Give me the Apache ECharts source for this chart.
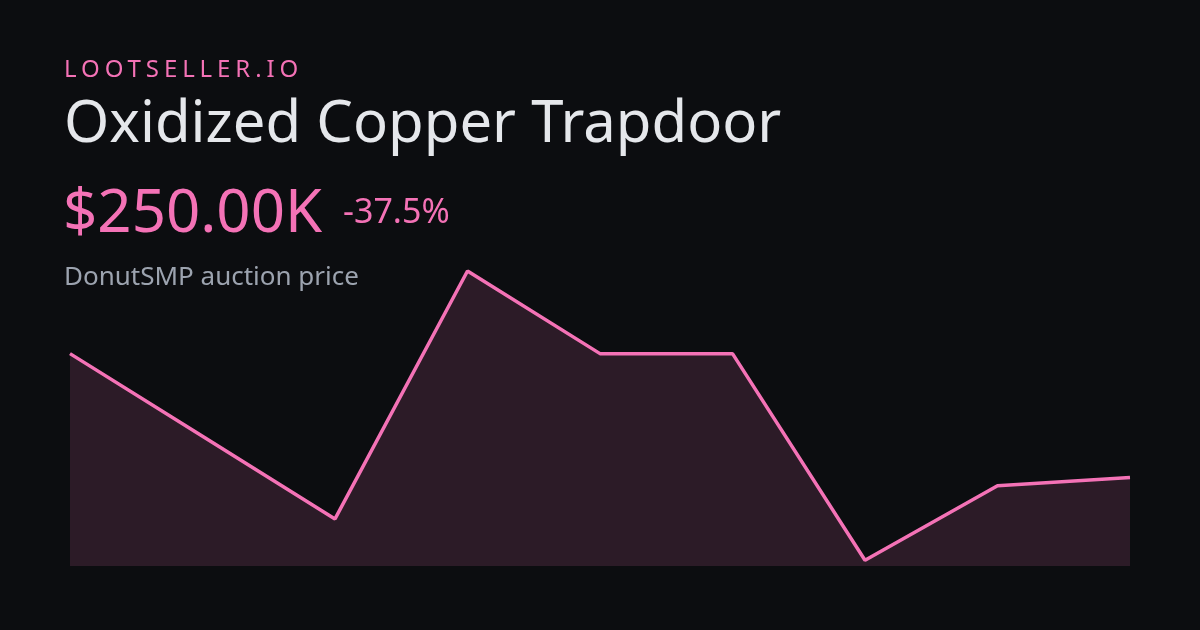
<!DOCTYPE html>
<html>
<head>
<meta charset="utf-8">
<script src="https://cdn.jsdelivr.net/npm/echarts@6/dist/echarts.min.js"></script>
<style>
  html, body { margin: 0; padding: 0; background: #0c0d10; }
  #wrap { position: relative; width: 1200px; height: 630px; }
  #chart { width: 1200px; height: 630px; }
  #brand { position: absolute; left: 64px; top: 56px; font-family: "Noto Sans", sans-serif; font-size: 24px; line-height: 24px; letter-spacing: 4.9px; color: #f472b6; white-space: nowrap; }
</style>
</head>
<body>
<div id="wrap">
  <div id="chart"></div>
  <div id="brand">LOOTSELLER.IO</div>
</div>
<script>
const categories = ['1', '2', '3', '4', '5', '6', '7', '8', '9'];
const prices = [400, 300, 200, 500, 400, 400, 150, 240, 250];
const titleText = 'Oxidized Copper Trapdoor';
const priceText = '$250.00K';
const changeText = '-37.5%';
const subText = 'DonutSMP auction price';

const pink = '#f472b6';
const chart = echarts.init(document.getElementById('chart'), null, { renderer: 'canvas' });
chart.setOption({
  backgroundColor: '#0c0d10',
  animation: false,
  grid: { left: 70, right: 70, top: 271, bottom: 64 },
  xAxis: { type: 'category', data: categories, boundaryGap: false, show: false },
  yAxis: { type: 'value', min: 143, max: 500, show: false, splitLine: { show: false } },
  graphic: [
    { type: 'text', left: 64, top: 96, style: { text: titleText, fill: '#e5e7eb', font: '58px "Noto Sans"' } },
    { type: 'text', left: 63, top: 185, style: { text: priceText, fill: pink, font: '60px "Noto Sans"' } },
    { type: 'text', left: 343, top: 196, style: { text: changeText, fill: pink, font: '34px "Noto Sans"' } },
    { type: 'text', left: 64, top: 265, style: { text: subText, fill: '#9ca3af', font: '26px "Noto Sans"' } }
  ],
  series: [{
    type: 'line',
    data: prices,
    symbol: 'none',
    lineStyle: { color: pink, width: 3.5 },
    areaStyle: { color: 'rgba(244,114,182,0.2)', origin: 'start' }
  }]
});
</script>
</body>
</html>
